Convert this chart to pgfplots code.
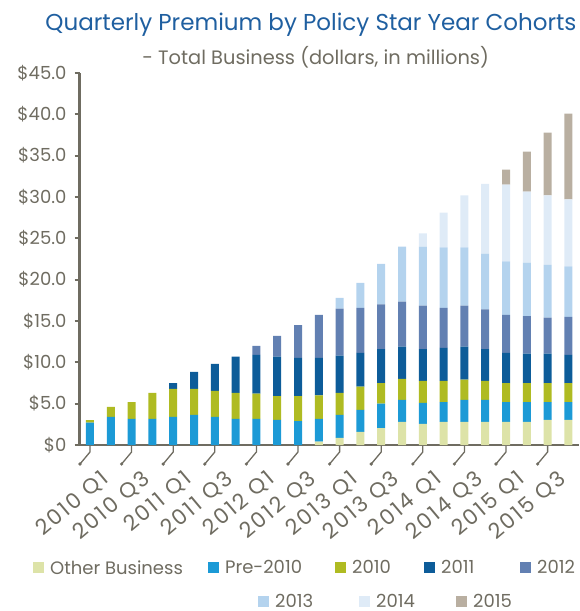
\documentclass[border=0pt]{standalone}
\usepackage{pgfplots}
\pgfplotsset{compat=1.18}
\usepackage{pgfplotstable}
\usepackage{fontspec}
\setmainfont{Poppins}
\definecolor{cOther}{RGB}{221,227,168}
\definecolor{cPre}{RGB}{28,154,214}
\definecolor{c10}{RGB}{175,187,34}
\definecolor{c11}{RGB}{13,92,153}
\definecolor{c12}{RGB}{98,128,178}
\definecolor{c13}{RGB}{180,211,238}
\definecolor{c14}{RGB}{223,235,247}
\definecolor{c15}{RGB}{185,175,161}
\definecolor{axgray}{RGB}{111,108,97}
\definecolor{titleblue}{RGB}{31,95,160}
\pgfplotsset{sqleg/.style={legend image code/.code={\fill[##1] (0bp,-5.5bp) rectangle (11bp,5.5bp);}}}
\pgfplotstableread{
i other pre y10 y11 y12 y13 y14 y15
0 0 2.7 0.3 0 0 0 0 0
1 0 3.4 1.2 0 0 0 0 0
2 0 3.15 2.05 0 0 0 0 0
3 0 3.15 3.15 0 0 0 0 0
4 0 3.4 3.4 0.7 0 0 0 0
5 0 3.65 3.15 2.05 0 0 0 0
6 0 3.4 3.15 3.25 0 0 0 0
7 0 3.15 3.15 4.4 0 0 0 0
8 0 3.15 3.05 4.7 1.1 0 0 0
9 0 3.05 2.85 4.8 2.5 0 0 0
10 0 2.9 3.0 4.65 3.95 0 0 0
11 0.4 2.75 2.85 4.55 5.2 0 0 0
12 0.85 2.8 2.65 4.5 5.7 1.3 0 0
13 1.6 2.65 2.8 4.1 5.45 3.0 0 0
14 2.05 2.95 2.5 4.1 5.4 4.9 0 0
15 2.8 2.65 2.55 3.9 5.45 6.65 0 0
16 2.55 2.55 2.65 3.85 5.25 7.15 1.6 0
17 2.8 2.4 2.55 4.0 4.85 7.3 4.2 0
18 2.8 2.65 2.45 4.0 4.95 7.05 6.3 0
19 2.8 2.65 2.3 3.85 4.8 6.75 8.45 0
20 2.8 2.4 2.3 3.65 4.6 6.45 9.3 1.8
21 2.8 2.4 2.3 3.55 4.55 6.45 8.6 4.85
22 3.05 2.15 2.3 3.55 4.35 6.4 8.4 7.6
23 3.05 2.15 2.3 3.4 4.6 6.1 8.1 10.4
}\data
\begin{document}
\begin{tikzpicture}
\useasboundingbox (-79.6bp,-166bp) rectangle (500.4bp,445bp);
\node[anchor=base, text=titleblue, font=\fontsize{23bp}{27bp}\selectfont] at (231.4bp,414bp) {Quarterly Premium by Policy Star Year Cohorts};
\node[anchor=base, text=axgray, font=\fontsize{19.4bp}{23bp}\selectfont] at (236bp,380bp) {- Total Business (dollars, in millions)};
\begin{axis}[
  at={(0,0)}, anchor=south west,
  scale only axis, width=499.2bp, height=372bp,
  xmin=-0.5, xmax=23.5, ymin=0, ymax=45,
  ybar stacked, bar width=8bp,
  axis x line*=bottom, axis y line*=left,
  axis line style={line width=2.8bp, color=axgray},
  clip=false,
  xtick={0,2,...,22},
  xticklabels={2010 Q1,2010 Q3,2011 Q1,2011 Q3,2012 Q1,2012 Q3,2013 Q1,2013 Q3,2014 Q1,2014 Q3,2015 Q1,2015 Q3},
  x tick style={draw=none},
  xticklabel style={rotate=40, anchor=east, inner sep=0pt, xshift=-5bp, yshift=-30bp, text=axgray, font=\fontsize{21.5bp}{24bp}\selectfont\addfontfeatures{LetterSpace=10,Numbers=Monospaced}},
  ytick={0,5,...,45},
  yticklabels={\$0,\$5.0,\$10.0,\$15.0,\$20.0,\$25.0,\$30.0,\$35.0,\$40.0,\$45.0},
  y tick style={line width=2bp, color=axgray},
  tick align=outside, major tick length=5bp,
  yticklabel style={anchor=east, inner sep=0pt, xshift=-8bp, text=axgray, font=\fontsize{18bp}{20bp}\selectfont},
  legend columns=5,
  legend style={at={(-0.0934,-0.3306)}, anchor=west, draw=none, fill=none, inner sep=0pt,
     text=axgray, font=\fontsize{18bp}{20bp}\selectfont,
     nodes={inner xsep=6bp, inner ysep=0pt},
     /tikz/every even column/.append style={column sep=0bp}},
]
\addplot[fill=cOther, draw=none, sqleg] table[x=i, y=other] {\data};
\addplot[fill=cPre, draw=none, sqleg] table[x=i, y=pre] {\data};
\addplot[fill=c10, draw=none, sqleg] table[x=i, y=y10] {\data};
\addplot[fill=c11, draw=none, sqleg] table[x=i, y=y11] {\data};
\addplot[fill=c12, draw=none, sqleg] table[x=i, y=y12] {\data};
\addplot[fill=c13, draw=none, sqleg] table[x=i, y=y13] {\data};
\addplot[fill=c14, draw=none, sqleg] table[x=i, y=y14] {\data};
\addplot[fill=c15, draw=none, sqleg] table[x=i, y=y15] {\data};
\legend{\makebox[152bp][l]{Other Business}, \makebox[104bp][l]{Pre-2010}, \makebox[66bp][l]{2010}, \makebox[73bp][l]{2011}, \makebox[45bp][l]{2012}}
\pgfplotsinvokeforeach{0,2,...,22}{
  \draw[axgray, line width=1.3bp] (axis cs:#1,0) -- ++(0bp,-7bp) -- ++(-10bp,-12bp);
  \fill[axgray] (axis cs:#1,0) ++(-10bp,-19bp) circle (1.8bp);
}
\end{axis}
\begin{axis}[
  at={(0,0)}, anchor=south west,
  scale only axis, width=499.2bp, height=372bp,
  hide axis, xmin=0, xmax=1, ymin=0, ymax=1,
  legend columns=3,
  legend style={at={(0.3574,-0.4220)}, anchor=west, draw=none, fill=none, inner sep=0pt,
     text=axgray, font=\fontsize{18bp}{20bp}\selectfont,
     nodes={inner xsep=6bp, inner ysep=0pt},
     /tikz/every even column/.append style={column sep=0bp}},
]
\addlegendimage{fill=c13, draw=none, sqleg}
\addlegendentry{\makebox[78bp][l]{2013}}
\addlegendimage{fill=c14, draw=none, sqleg}
\addlegendentry{\makebox[74bp][l]{2014}}
\addlegendimage{fill=c15, draw=none, sqleg}
\addlegendentry{\makebox[45bp][l]{2015}}
\end{axis}
\end{tikzpicture}
\end{document}
